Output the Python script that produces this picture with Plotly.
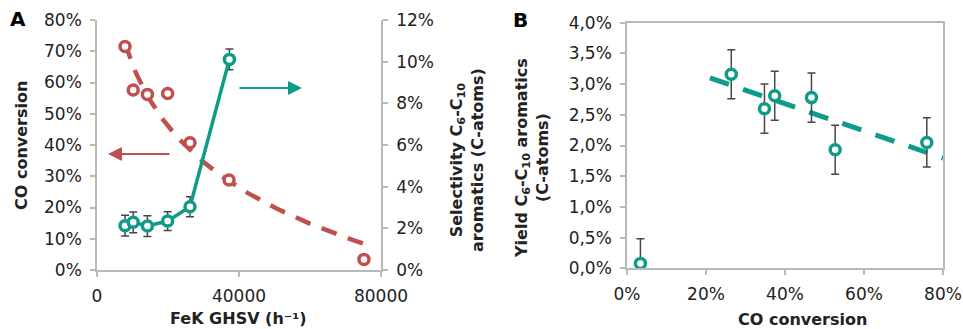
import numpy as np
import plotly.graph_objects as go

# Panel A: FeK catalyst vs gas hourly space velocity
ghsv = [7900, 10200, 14200, 19900, 26200, 37200, 75200]
co_conversion = [71.5, 57.6, 56.2, 56.5, 40.7, 28.8, 3.4]          # %
ghsv_sel = [7900, 10200, 14200, 19900, 26200, 37300]
selectivity = [2.13, 2.29, 2.11, 2.35, 3.04, 10.11]                # %
selectivity_err = [0.5, 0.5, 0.5, 0.45, 0.48, 0.5]

# Panel B: yield of C6-C10 aromatics vs CO conversion
conv_b = [3.4, 26.4, 34.8, 37.4, 46.7, 52.7, 75.9]                 # %
yield_b = [0.08, 3.16, 2.60, 2.81, 2.78, 1.93, 2.05]                # %
yield_err = [0.4, 0.4, 0.4, 0.4, 0.4, 0.4, 0.4]

yticks_b = [0, 0.5, 1.0, 1.5, 2.0, 2.5, 3.0, 3.5, 4.0]
yticklabels_b = ["0,0%", "0,5%", "1,0%", "1,5%", "2,0%", "2,5%", "3,0%", "3,5%", "4,0%"]

RED = "#c0504d"
TEAL = "#0e9c88"
AXIS = "#b8b8b8"
ERR = "#474747"
FONT = "DejaVu Sans"
W, H = 963, 329

# Logarithmic trend of CO conversion (least squares in ln GHSV)
k, c = np.polyfit(np.log(ghsv), co_conversion, 1)
tx = np.linspace(min(ghsv), max(ghsv), 120)
ty = k * np.log(tx) + c

# Linear trend of yield over the runs with measurable conversion
fit_x = conv_b[1:]
fit_y = yield_b[1:]
m, b0 = np.polyfit(fit_x, fit_y, 1)
lx = np.array([21.0, 80.0])
ly = m * lx + b0

fig = go.Figure()

fig.add_trace(go.Scatter(
    x=tx, y=ty, mode="lines", xaxis="x", yaxis="y",
    line=dict(color=RED, width=4.5, dash="16px,12px"), hoverinfo="skip"))
fig.add_trace(go.Scatter(
    x=ghsv, y=co_conversion, mode="markers", xaxis="x", yaxis="y",
    marker=dict(symbol="circle", size=10, color="white",
                line=dict(color=RED, width=3.5)), cliponaxis=False))
fig.add_trace(go.Scatter(
    x=ghsv_sel, y=selectivity, mode="lines+markers", xaxis="x", yaxis="y2",
    line=dict(color=TEAL, width=3.5),
    marker=dict(symbol="circle", size=10, color="white",
                line=dict(color=TEAL, width=3.5)),
    error_y=dict(type="data", array=selectivity_err, color=ERR,
                 thickness=1.5, width=4), cliponaxis=False))

fig.add_trace(go.Scatter(
    x=lx, y=ly, mode="lines", xaxis="x2", yaxis="y3",
    line=dict(color=TEAL, width=5, dash="20px,15px"), hoverinfo="skip"))
fig.add_trace(go.Scatter(
    x=conv_b, y=yield_b, mode="markers", xaxis="x2", yaxis="y3",
    marker=dict(symbol="circle", size=10, color="white",
                line=dict(color=TEAL, width=3.5)),
    error_y=dict(type="data", symmetric=False, array=yield_err,
                 arrayminus=[min(e, v) for e, v in zip(yield_err, yield_b)],
                 color=ERR, thickness=1.5, width=4), cliponaxis=False))


def px_x(p):
    return p / W


def px_y(p):
    return (H - p) / H


tickfont = dict(family=FONT, size=17, color="#222222")
axis_common = dict(showgrid=False, zeroline=False, showline=True,
                   linecolor=AXIS, linewidth=1.5, ticks="outside",
                   ticklen=5, tickcolor=AXIS, tickwidth=1.5,
                   tickfont=tickfont, fixedrange=True, automargin=False,
                   ticklabelstandoff=5)

fig.update_layout(
    width=W, height=H, margin=dict(l=0, r=0, t=0, b=0),
    paper_bgcolor="white", plot_bgcolor="white", showlegend=False,
    font=dict(family=FONT, color="#222222"),
    xaxis=dict(domain=[px_x(97), px_x(381)], range=[0, 80000],
               tickvals=[0, 40000, 80000], ticktext=["0", "40000", "80000"],
               anchor="y", **axis_common),
    yaxis=dict(domain=[px_y(270), px_y(20)], range=[0, 80], dtick=10,
               ticksuffix="%", anchor="x", **axis_common),
    yaxis2=dict(range=[0, 12], dtick=2, ticksuffix="%", overlaying="y",
                side="right", anchor="x", **axis_common),
    xaxis2=dict(domain=[px_x(627), px_x(943)], range=[0, 80], dtick=20,
                ticksuffix="%", anchor="y3", mirror=True, **axis_common),
    yaxis3=dict(domain=[px_y(268.3), px_y(22.7)], range=[0, 4],
                tickvals=yticks_b, ticktext=yticklabels_b, anchor="x2",
                mirror=True, **axis_common),
)

bold = dict(family=FONT, size=16, color="#222222")
annotations = [
    dict(text="<b>A</b>", x=px_x(18), y=px_y(19), font=dict(family=FONT, size=20, color="black")),
    dict(text="<b>B</b>", x=px_x(520), y=px_y(20), font=dict(family=FONT, size=20, color="black")),
    dict(text="<b>CO conversion</b>", x=px_x(21), y=px_y(146), textangle=-90, font=bold),
    dict(text="<b>Selectivity C<sub>6</sub>-C<sub>10</sub><br>aromatics (C-atoms)</b>",
         x=px_x(467), y=px_y(160), textangle=-90, font=bold),
    dict(text="<b>FeK GHSV (h⁻¹)</b>", x=px_x(238), y=px_y(318), font=bold),
    dict(text="<b>Yield C<sub>6</sub>-C<sub>10</sub> aromatics<br>(C-atoms)</b>",
         x=px_x(532), y=px_y(158), textangle=-90, font=bold),
    dict(text="<b>CO conversion</b>", x=px_x(802), y=px_y(319), font=bold),
]
for a in annotations:
    fig.add_annotation(xref="paper", yref="paper", showarrow=False,
                       xanchor="center", yanchor="middle", **a)

# Arrows pointing each series to its axis
fig.add_annotation(xref="paper", yref="paper", x=px_x(108), y=px_y(154),
                   ax=63, ay=0, text="", showarrow=True, arrowhead=2,
                   arrowsize=1.4, arrowwidth=2, arrowcolor=RED)
fig.add_annotation(xref="paper", yref="paper", x=px_x(302), y=px_y(88),
                   ax=-64, ay=0, text="", showarrow=True, arrowhead=2,
                   arrowsize=1.4, arrowwidth=2, arrowcolor=TEAL)

fig.write_html("out.html")
